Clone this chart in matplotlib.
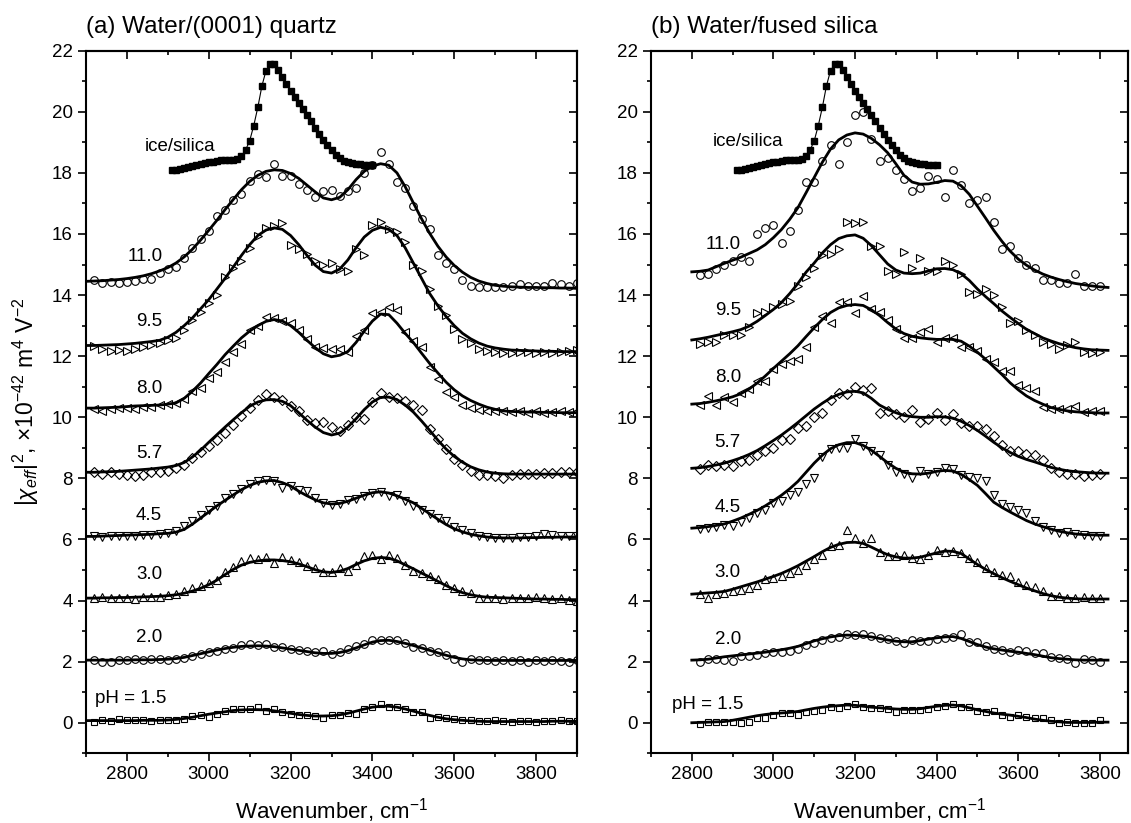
import matplotlib.pyplot as plt
import numpy as np
from matplotlib.ticker import MultipleLocator

plt.rcParams['font.family'] = ['Liberation Sans', 'DejaVu Sans']
plt.rcParams['mathtext.fontset'] = 'custom'
plt.rcParams['mathtext.rm'] = 'Liberation Sans'
plt.rcParams['mathtext.it'] = 'Liberation Sans:italic'

# wavenumber grids, cm^-1
wn_a = np.arange(2700, 3901, 20)      # panel (a) fit, data = wn_a[1:]
wn_b = np.arange(2800, 3821, 20)      # panel (b) fit, data = wn_b[1:-1]
wn_ice = np.arange(2910, 3401, 10)

ice = [18.08, 18.09, 18.12, 18.15, 18.19, 18.22, 18.25, 18.28, 18.31, 18.35,
       18.37, 18.40, 18.41, 18.41, 18.42, 18.43, 18.45, 18.55, 18.75, 19.05,
       19.55, 20.15, 20.85, 21.35, 21.55, 21.55, 21.38, 21.13, 20.92, 20.68,
       20.49, 20.30, 20.10, 19.90, 19.70, 19.48, 19.27, 19.08, 18.90, 18.74,
       18.60, 18.48, 18.40, 18.35, 18.31, 18.29, 18.28, 18.27, 18.26, 18.26]

# ---- panel (a) water/(0001) quartz ----
fit_a_110 = [14.45, 14.46, 14.47, 14.49, 14.51, 14.54, 14.58, 14.63, 14.70, 14.79,
             14.90, 15.05, 15.25, 15.50, 15.80, 16.12, 16.45, 16.80, 17.13, 17.45,
             17.72, 17.92, 18.05, 18.10, 18.08, 17.98, 17.82, 17.60, 17.38, 17.18,
             17.12, 17.20, 17.45, 17.78, 18.05, 18.22, 18.30, 18.25, 18.00, 17.55,
             17.02, 16.50, 16.02, 15.60, 15.25, 14.97, 14.75, 14.58, 14.46, 14.38,
             14.32, 14.29, 14.27, 14.26, 14.25, 14.25, 14.24, 14.24, 14.23, 14.23, 14.22]
fit_a_95 = [12.35, 12.35, 12.36, 12.37, 12.38, 12.40, 12.42, 12.45, 12.48, 12.52,
            12.62, 12.78, 13.00, 13.25, 13.55, 13.85, 14.20, 14.55, 14.92, 15.30,
            15.65, 15.95, 16.13, 16.20, 16.15, 15.95, 15.65, 15.30, 14.98, 14.77,
            14.72, 14.85, 15.15, 15.55, 15.90, 16.12, 16.22, 16.15, 15.95, 15.55,
            15.05, 14.55, 14.05, 13.65, 13.30, 13.00, 12.75, 12.57, 12.43, 12.33,
            12.27, 12.23, 12.20, 12.19, 12.18, 12.17, 12.16, 12.16, 12.15, 12.15, 12.15]
fit_a_80 = [10.30, 10.30, 10.31, 10.32, 10.33, 10.35, 10.37, 10.38, 10.39, 10.40,
            10.43, 10.47, 10.62, 10.85, 11.12, 11.43, 11.73, 12.05, 12.33, 12.60,
            12.82, 13.00, 13.14, 13.20, 13.15, 13.00, 12.78, 12.52, 12.28, 12.08,
            11.98, 12.03, 12.15, 12.45, 12.82, 13.15, 13.38, 13.36, 13.08, 12.75,
            12.45, 12.10, 11.76, 11.45, 11.15, 10.90, 10.70, 10.55, 10.43, 10.33,
            10.26, 10.21, 10.19, 10.18, 10.17, 10.17, 10.16, 10.16, 10.15, 10.15, 10.15]
fit_a_57 = [8.20, 8.20, 8.21, 8.22, 8.23, 8.25, 8.27, 8.29, 8.31, 8.34,
            8.37, 8.42, 8.52, 8.70, 8.92, 9.18, 9.43, 9.68, 9.92, 10.15,
            10.36, 10.50, 10.57, 10.58, 10.52, 10.38, 10.15, 9.90, 9.68, 9.50,
            9.42, 9.48, 9.68, 9.95, 10.25, 10.50, 10.65, 10.66, 10.58, 10.40,
            10.17, 9.88, 9.57, 9.25, 8.96, 8.72, 8.53, 8.38, 8.28, 8.21,
            8.17, 8.15, 8.14, 8.14, 8.14, 8.14, 8.14, 8.14, 8.14, 8.14, 8.14]
fit_a_45 = [6.10, 6.10, 6.11, 6.12, 6.13, 6.14, 6.15, 6.16, 6.17, 6.19,
            6.20, 6.24, 6.33, 6.50, 6.70, 6.90, 7.10, 7.28, 7.46, 7.63,
            7.77, 7.87, 7.92, 7.93, 7.86, 7.75, 7.58, 7.43, 7.30, 7.20,
            7.16, 7.18, 7.25, 7.35, 7.45, 7.53, 7.56, 7.52, 7.43, 7.32,
            7.20, 7.02, 6.84, 6.66, 6.49, 6.35, 6.25, 6.17, 6.12, 6.08,
            6.06, 6.05, 6.05, 6.05, 6.06, 6.06, 6.07, 6.07, 6.08, 6.08, 6.08]
fit_a_30 = [4.08, 4.08, 4.09, 4.09, 4.10, 4.10, 4.11, 4.12, 4.13, 4.14,
            4.16, 4.19, 4.24, 4.31, 4.40, 4.52, 4.67, 4.85, 5.02, 5.16,
            5.25, 5.30, 5.33, 5.33, 5.31, 5.27, 5.20, 5.11, 5.01, 4.94,
            4.92, 4.96, 5.05, 5.18, 5.30, 5.38, 5.41, 5.39, 5.30, 5.17,
            5.04, 4.90, 4.77, 4.63, 4.49, 4.36, 4.26, 4.19, 4.14, 4.11,
            4.10, 4.09, 4.08, 4.07, 4.06, 4.05, 4.05, 4.04, 4.04, 4.03, 4.03]
fit_a_20 = [2.05, 2.05, 2.05, 2.05, 2.05, 2.05, 2.06, 2.06, 2.06, 2.07,
            2.08, 2.10, 2.14, 2.20, 2.26, 2.32, 2.38, 2.43, 2.47, 2.50,
            2.51, 2.52, 2.51, 2.49, 2.45, 2.41, 2.37, 2.33, 2.29, 2.27,
            2.27, 2.30, 2.36, 2.45, 2.55, 2.64, 2.69, 2.70, 2.66, 2.60,
            2.53, 2.45, 2.37, 2.29, 2.21, 2.14, 2.09, 2.06, 2.05, 2.04,
            2.04, 2.04, 2.04, 2.04, 2.04, 2.04, 2.04, 2.04, 2.04, 2.04, 2.04]
fit_a_15 = [0.07, 0.07, 0.07, 0.07, 0.07, 0.07, 0.07, 0.08, 0.08, 0.08,
            0.09, 0.11, 0.14, 0.18, 0.23, 0.28, 0.32, 0.36, 0.40, 0.42,
            0.43, 0.43, 0.42, 0.39, 0.35, 0.31, 0.27, 0.24, 0.22, 0.22,
            0.23, 0.26, 0.31, 0.38, 0.45, 0.51, 0.54, 0.54, 0.51, 0.45,
            0.38, 0.31, 0.24, 0.18, 0.13, 0.10, 0.08, 0.06, 0.05, 0.04,
            0.04, 0.04, 0.04, 0.04, 0.04, 0.04, 0.04, 0.05, 0.05, 0.05, 0.05]

data_a_110 = [14.5, 14.38, 14.42, 14.38, 14.42, 14.45, 14.52, 14.52, 14.72, 14.85,
              14.92, 15.2, 15.55, 15.85, 16.1, 16.6, 16.8, 17.1, 17.3, 17.75,
              17.95, 17.85, 18.3, 17.9, 17.9, 17.65, 17.45, 17.22, 17.4, 17.45,
              17.25, 17.4, 17.5, 18.0, 18.25, 18.7, 18.3, 17.7, 17.5, 16.9,
              16.5, 16.15, 15.3, 15.05, 14.85, 14.48, 14.3, 14.25, 14.25, 14.25,
              14.27, 14.3, 14.35, 14.3, 14.3, 14.3, 14.4, 14.35, 14.3, 14.4]
data_a_95 = [12.33, 12.23, 12.18, 12.2, 12.18, 12.25, 12.3, 12.38, 12.42, 12.52,
             12.6, 12.85, 13.2, 13.45, 13.75, 14.0, 14.6, 14.9, 15.1, 15.55,
             15.95, 16.2, 16.25, 16.35, 15.65, 15.5, 15.35, 15.1, 15.0, 15.05,
             14.85, 14.8, 15.5, 15.3, 16.3, 16.4, 16.15, 16.05, 15.75, 15.0,
             14.8, 14.2, 13.65, 13.35, 12.9, 12.56, 12.42, 12.23, 12.18, 12.15,
             12.12, 12.12, 12.15, 12.13, 12.12, 12.15, 12.12, 12.15, 12.18, 12.2]
data_a_80 = [10.27, 10.22, 10.27, 10.3, 10.3, 10.27, 10.35, 10.32, 10.4, 10.43,
             10.48, 10.6, 10.85, 10.95, 11.3, 11.47, 11.8, 12.15, 12.4, 12.85,
             13.0, 13.27, 13.25, 13.16, 13.1, 12.85, 12.55, 12.3, 12.28, 12.25,
             12.23, 12.15, 12.65, 12.85, 13.4, 13.45, 13.6, 13.5, 12.8, 12.5,
             12.3, 11.65, 11.25, 10.82, 10.65, 10.4, 10.3, 10.25, 10.2, 10.22,
             10.2, 10.18, 10.2, 10.15, 10.2, 10.15, 10.18, 10.2, 10.18, 10.2]
data_a_57 = [8.22, 8.15, 8.2, 8.15, 8.12, 8.08, 8.12, 8.2, 8.22, 8.25,
             8.33, 8.45, 8.68, 8.85, 9.05, 9.25, 9.48, 9.75, 10.03, 10.3,
             10.55, 10.75, 10.68, 10.55, 10.38, 10.2, 9.9, 9.8, 9.85, 9.68,
             9.55, 9.75, 10.0, 9.95, 10.5, 10.78, 10.68, 10.62, 10.53, 10.4,
             10.25, 9.6, 9.3, 8.95, 8.65, 8.45, 8.25, 8.1, 8.12, 8.08,
             8.0, 8.1, 8.15, 8.15, 8.15, 8.18, 8.18, 8.2, 8.2, 8.22]
data_a_45 = [6.1, 6.08, 6.12, 6.1, 6.12, 6.12, 6.13, 6.15, 6.17, 6.2,
             6.28, 6.45, 6.62, 6.8, 6.95, 7.1, 7.35, 7.5, 7.65, 7.8,
             7.9, 7.95, 7.93, 7.7, 7.75, 7.62, 7.58, 7.35, 7.2, 7.13,
             7.17, 7.3, 7.32, 7.43, 7.53, 7.55, 7.42, 7.45, 7.25, 7.08,
             6.95, 6.83, 6.7, 6.62, 6.4, 6.3, 6.2, 6.12, 6.08, 6.05,
             6.05, 6.06, 6.07, 6.08, 6.1, 6.18, 6.15, 6.12, 6.1, 6.12]
data_a_30 = [4.08, 4.13, 4.1, 4.08, 4.1, 4.05, 4.13, 4.12, 4.12, 4.18,
             4.22, 4.3, 4.42, 4.48, 4.57, 4.68, 4.92, 5.1, 5.3, 5.4,
             5.35, 5.42, 5.22, 5.44, 5.32, 5.25, 5.12, 5.05, 4.92, 4.92,
             5.05, 4.97, 5.15, 5.45, 5.5, 5.35, 5.5, 5.38, 5.17, 4.98,
             4.9, 4.82, 4.7, 4.5, 4.42, 4.3, 4.25, 4.1, 4.1, 4.08,
             4.05, 4.07, 4.08, 4.1, 4.13, 4.1, 4.05, 4.08, 4.03, 4.0]
data_a_20 = [2.05, 2.0, 1.98, 2.05, 2.05, 2.08, 2.07, 2.1, 2.08, 2.05,
             2.08, 2.12, 2.17, 2.25, 2.33, 2.35, 2.42, 2.45, 2.55, 2.58,
             2.55, 2.58, 2.48, 2.47, 2.4, 2.38, 2.35, 2.3, 2.35, 2.25,
             2.3, 2.4, 2.5, 2.58, 2.7, 2.72, 2.72, 2.7, 2.6, 2.48,
             2.45, 2.35, 2.3, 2.22, 2.1, 2.0, 2.08, 2.05, 2.05, 2.02,
             2.05, 2.03, 2.05, 2.0, 2.05, 2.03, 2.05, 2.02, 2.0, 2.05]
data_a_15 = [0.02, 0.08, 0.05, 0.13, 0.08, 0.1, 0.1, 0.05, 0.08, 0.08,
             0.1, 0.12, 0.22, 0.25, 0.2, 0.3, 0.38, 0.45, 0.45, 0.45,
             0.5, 0.4, 0.45, 0.35, 0.3, 0.25, 0.25, 0.22, 0.17, 0.25,
             0.25, 0.32, 0.3, 0.45, 0.52, 0.6, 0.52, 0.5, 0.45, 0.35,
             0.35, 0.15, 0.2, 0.15, 0.12, 0.1, 0.08, 0.05, 0.05, 0.08,
             0.05, 0.03, 0.05, 0.05, 0.03, 0.05, 0.05, 0.08, 0.05, 0.07]

# ---- panel (b) water/fused silica ----
fit_b_110 = [14.76, 14.78, 14.82, 14.93, 15.04, 15.14, 15.24, 15.36, 15.48, 15.65,
             15.88, 16.15, 16.48, 16.86, 17.35, 17.85, 18.35, 18.78, 19.08, 19.24,
             19.31, 19.27, 19.13, 18.92, 18.66, 18.30, 17.92, 17.70, 17.63, 17.64,
             17.69, 17.75, 17.73, 17.58, 17.30, 16.91, 16.52, 16.12, 15.76, 15.44,
             15.18, 14.98, 14.82, 14.69, 14.59, 14.51, 14.44, 14.38, 14.34, 14.30,
             14.27, 14.25]
fit_b_95 = [12.53, 12.57, 12.62, 12.68, 12.74, 12.80, 12.87, 12.98, 13.14, 13.33,
            13.53, 13.76, 14.05, 14.38, 14.75, 15.05, 15.38, 15.65, 15.85, 15.94,
            15.97, 15.86, 15.62, 15.32, 15.02, 14.82, 14.72, 14.70, 14.72, 14.79,
            14.86, 14.87, 14.83, 14.70, 14.48, 14.20, 13.95, 13.72, 13.48, 13.27,
            13.07, 12.88, 12.74, 12.60, 12.50, 12.41, 12.34, 12.28, 12.24, 12.21,
            12.20, 12.19]
fit_b_80 = [10.43, 10.45, 10.49, 10.54, 10.60, 10.67, 10.77, 10.92, 11.12, 11.35,
            11.60, 11.84, 12.08, 12.34, 12.64, 12.93, 13.20, 13.43, 13.58, 13.66,
            13.69, 13.66, 13.52, 13.33, 13.10, 12.89, 12.74, 12.65, 12.60, 12.57,
            12.55, 12.55, 12.55, 12.49, 12.33, 12.13, 11.90, 11.65, 11.40, 11.13,
            10.90, 10.70, 10.55, 10.43, 10.32, 10.26, 10.21, 10.18, 10.16, 10.15,
            10.14, 10.14]
fit_b_57 = [8.33, 8.35, 8.39, 8.44, 8.50, 8.58, 8.67, 8.78, 8.91, 9.07,
            9.24, 9.42, 9.62, 9.83, 10.05, 10.27, 10.46, 10.63, 10.75, 10.83,
            10.85, 10.80, 10.62, 10.40, 10.26, 10.15, 10.06, 10.02, 10.00, 10.00,
            10.02, 10.01, 9.97, 9.87, 9.73, 9.57, 9.38, 9.18, 9.00, 8.85,
            8.72, 8.62, 8.54, 8.45, 8.36, 8.30, 8.25, 8.22, 8.20, 8.18,
            8.17, 8.17]
fit_b_45 = [6.37, 6.39, 6.42, 6.46, 6.51, 6.60, 6.70, 6.82, 6.95, 7.10,
            7.27, 7.45, 7.66, 7.90, 8.20, 8.50, 8.76, 8.97, 9.10, 9.17,
            9.17, 9.08, 8.92, 8.72, 8.51, 8.33, 8.20, 8.15, 8.14, 8.17,
            8.23, 8.26, 8.24, 8.13, 7.96, 7.77, 7.50, 7.22, 7.05, 6.90,
            6.76, 6.62, 6.51, 6.42, 6.34, 6.27, 6.22, 6.18, 6.16, 6.15,
            6.14, 6.14]
fit_b_30 = [4.21, 4.23, 4.25, 4.27, 4.30, 4.37, 4.45, 4.53, 4.61, 4.70,
            4.79, 4.89, 5.01, 5.14, 5.29, 5.44, 5.60, 5.74, 5.84, 5.90,
            5.91, 5.87, 5.75, 5.62, 5.50, 5.43, 5.39, 5.39, 5.42, 5.49,
            5.56, 5.62, 5.61, 5.54, 5.36, 5.18, 5.02, 4.88, 4.75, 4.63,
            4.52, 4.41, 4.32, 4.23, 4.16, 4.11, 4.08, 4.06, 4.05, 4.05,
            4.05, 4.05]
fit_b_20 = [2.05, 2.06, 2.08, 2.12, 2.16, 2.19, 2.22, 2.25, 2.28, 2.31,
            2.35, 2.39, 2.44, 2.50, 2.59, 2.68, 2.75, 2.81, 2.85, 2.87,
            2.86, 2.84, 2.81, 2.76, 2.71, 2.67, 2.65, 2.65, 2.69, 2.74,
            2.78, 2.81, 2.82, 2.76, 2.66, 2.56, 2.48, 2.42, 2.38, 2.34,
            2.31, 2.27, 2.23, 2.18, 2.13, 2.10, 2.08, 2.06, 2.05, 2.05,
            2.05, 2.05]
fit_b_15 = [0.00, 0.01, 0.02, 0.03, 0.04, 0.08, 0.13, 0.18, 0.23, 0.27,
            0.30, 0.32, 0.34, 0.37, 0.42, 0.47, 0.51, 0.54, 0.56, 0.58,
            0.57, 0.54, 0.51, 0.49, 0.47, 0.45, 0.44, 0.44, 0.46, 0.50,
            0.54, 0.57, 0.58, 0.55, 0.49, 0.42, 0.37, 0.32, 0.28, 0.25,
            0.21, 0.17, 0.12, 0.08, 0.05, 0.03, 0.01, 0.01, 0.01, 0.01,
            0.02, 0.02]

data_b_110 = [14.65, 14.68, 14.85, 15.0, 15.1, 15.25, 15.1, 16.0, 16.2, 16.3,
              15.7, 16.1, 16.8, 17.7, 17.7, 18.4, 18.9, 18.3, 19.0, 19.9,
              20.0, 19.1, 18.4, 18.5, 18.1, 17.8, 17.4, 17.5, 17.9, 17.8,
              17.2, 18.1, 17.6, 17.0, 17.1, 17.2, 16.4, 15.5, 15.6, 15.2,
              15.0, 14.9, 14.5, 14.5, 14.4, 14.4, 14.7, 14.3, 14.3, 14.3]
data_b_95 = [12.4, 12.45, 12.45, 12.7, 12.7, 12.7, 12.95, 13.4, 13.45, 13.6,
             13.7, 13.8, 14.3, 14.6, 14.9, 15.3, 15.35, 15.5, 16.4, 16.35,
             16.4, 15.6, 15.6, 14.8, 14.7, 15.4, 14.9, 15.2, 14.8, 14.8,
             15.1, 15.0, 14.7, 14.1, 14.05, 14.2, 14.0, 13.6, 13.1, 13.15,
             12.85, 12.7, 12.45, 12.4, 12.25, 12.35, 12.45, 12.15, 12.12, 12.15]
data_b_80 = [10.4, 10.7, 10.4, 10.65, 10.5, 10.8, 10.92, 11.2, 11.2, 11.58,
             11.76, 11.85, 11.9, 12.3, 12.94, 13.3, 13.1, 13.76, 13.76, 13.4,
             13.98, 13.55, 13.43, 13.2, 12.9, 12.61, 12.6, 12.78, 12.9, 12.45,
             12.61, 12.61, 12.3, 12.3, 12.18, 11.9, 11.8, 11.5, 11.5, 11.05,
             10.95, 10.85, 10.32, 10.27, 10.27, 10.27, 10.38, 10.16, 10.21, 10.21]
data_b_57 = [8.3, 8.45, 8.4, 8.45, 8.42, 8.57, 8.6, 8.75, 8.9, 9.0,
             9.25, 9.3, 9.65, 9.7, 10.0, 10.15, 10.55, 10.8, 10.75, 11.0,
             10.9, 10.95, 10.15, 10.2, 10.1, 10.0, 10.25, 9.85, 9.95, 10.15,
             9.9, 10.1, 9.8, 9.7, 9.7, 9.6, 9.4, 9.1, 8.9, 8.88,
             8.8, 8.75, 8.6, 8.35, 8.2, 8.15, 8.15, 8.08, 8.1, 8.15]
data_b_45 = [6.35, 6.38, 6.42, 6.47, 6.43, 6.58, 6.7, 6.85, 6.95, 7.2,
             7.27, 7.45, 7.55, 7.8, 8.0, 8.7, 8.95, 9.0, 9.0, 9.3,
             9.05, 8.9, 8.75, 8.45, 8.2, 8.15, 8.0, 8.25, 8.15, 8.2,
             8.35, 8.3, 8.1, 8.03, 8.0, 7.9, 7.45, 7.15, 7.05, 6.95,
             6.85, 6.6, 6.4, 6.3, 6.22, 6.24, 6.19, 6.13, 6.1, 6.1]
data_b_30 = [4.2, 4.1, 4.2, 4.25, 4.3, 4.35, 4.42, 4.5, 4.72, 4.75,
             4.8, 4.9, 5.0, 5.18, 5.35, 5.5, 5.8, 5.82, 6.3, 6.05,
             5.9, 6.05, 5.6, 5.45, 5.45, 5.5, 5.4, 5.35, 5.5, 5.65,
             5.6, 5.62, 5.55, 5.38, 5.25, 5.05, 4.95, 4.85, 4.8, 4.6,
             4.5, 4.45, 4.3, 4.15, 4.15, 4.1, 4.08, 4.12, 4.08, 4.08]
data_b_20 = [2.0, 2.08, 2.1, 2.07, 2.03, 2.17, 2.2, 2.22, 2.27, 2.3,
             2.32, 2.35, 2.42, 2.53, 2.6, 2.7, 2.78, 2.8, 2.9, 2.87,
             2.9, 2.84, 2.78, 2.74, 2.68, 2.6, 2.72, 2.67, 2.68, 2.75,
             2.78, 2.8, 2.9, 2.65, 2.65, 2.5, 2.43, 2.38, 2.33, 2.38,
             2.35, 2.27, 2.27, 2.16, 2.12, 2.08, 1.95, 2.08, 2.05, 1.98]
data_b_15 = [-0.05, 0.03, 0.03, 0.03, 0.02, 0.0, 0.02, 0.14, 0.17, 0.25,
             0.31, 0.31, 0.25, 0.34, 0.4, 0.42, 0.53, 0.47, 0.55, 0.6,
             0.52, 0.47, 0.47, 0.45, 0.35, 0.42, 0.42, 0.42, 0.45, 0.52,
             0.55, 0.6, 0.52, 0.5, 0.4, 0.35, 0.38, 0.25, 0.2, 0.25,
             0.2, 0.15, 0.15, 0.08, 0.0, 0.03, 0.0, 0.0, 0.0, 0.08]

ph_labels = ['11.0', '9.5', '8.0', '5.7', '4.5', '3.0', '2.0', 'pH = 1.5']
markers = ['o', '>', '<', 'D', 'v', '^', 'o', 's']
msizes = [5.5, 6, 6, 4.6, 6, 6, 5.5, 5]

# label anchor points (wavenumber, value)
lab_a_x = [2802, 2822, 2822, 2822, 2822, 2822, 2822, 2721]
lab_a_y = [15.26, 13.15, 10.95, 8.82, 6.77, 4.86, 2.79, 0.8]
lab_b_x = [2834, 2856, 2856, 2856, 2856, 2856, 2856, 2751]
lab_b_y = [15.64, 13.5, 11.31, 9.17, 7.05, 4.92, 2.74, 0.6]

fits_a = [fit_a_110, fit_a_95, fit_a_80, fit_a_57, fit_a_45, fit_a_30, fit_a_20, fit_a_15]
datas_a = [data_a_110, data_a_95, data_a_80, data_a_57, data_a_45, data_a_30, data_a_20, data_a_15]
fits_b = [fit_b_110, fit_b_95, fit_b_80, fit_b_57, fit_b_45, fit_b_30, fit_b_20, fit_b_15]
datas_b = [data_b_110, data_b_95, data_b_80, data_b_57, data_b_45, data_b_30, data_b_20, data_b_15]

fig = plt.figure(figsize=(11.31, 8.23), dpi=100)
ax_a = fig.add_axes([86 / 1131, 69.7 / 823, 491 / 1131, 702.6 / 823])
ax_b = fig.add_axes([651 / 1131, 69.7 / 823, 477 / 1131, 702.6 / 823])


def draw_panel(ax, wn, wn_data, fits, datas, lab_x, lab_y, ice_x, ice_lab):
    for fit, dat, m, ms in zip(fits, datas, markers, msizes):
        ax.plot(wn_data, dat, linestyle='none', marker=m, ms=ms, mfc='none',
                mec='black', mew=0.8)
        ax.plot(wn, fit, color='black', lw=2.0)
    for x, y, s in zip(lab_x, lab_y, ph_labels):
        ax.text(x, y, s, fontsize=13.5, va='center', ha='left')
    # ice/silica reference spectrum
    ax.plot(wn_ice, ice, color='black', lw=0.8, marker='s', ms=4.4,
            mfc='black', mec='black')
    ax.text(ice_x, ice_lab, 'ice/silica', fontsize=13.5, va='center', ha='left')

    ax.set_ylim(-1, 22)
    ax.yaxis.set_major_locator(MultipleLocator(2))
    ax.yaxis.set_minor_locator(MultipleLocator(1))
    ax.xaxis.set_major_locator(MultipleLocator(200))
    ax.xaxis.set_minor_locator(MultipleLocator(100))
    ax.tick_params(which='both', direction='out', top=False, right=False,
                   labelsize=13.5, width=1.2)
    ax.tick_params(which='major', length=6)
    ax.tick_params(which='minor', length=3)
    for sp in ax.spines.values():
        sp.set_linewidth(1.5)

    # inward ticks on top and right
    top = ax.secondary_xaxis('top')
    top.xaxis.set_major_locator(MultipleLocator(200))
    top.xaxis.set_minor_locator(MultipleLocator(100))
    top.tick_params(which='both', direction='in', labeltop=False, width=1.2)
    top.tick_params(which='major', length=6)
    top.tick_params(which='minor', length=3)
    top.spines['top'].set_linewidth(1.5)
    right = ax.secondary_yaxis('right')
    right.yaxis.set_major_locator(MultipleLocator(2))
    right.yaxis.set_minor_locator(MultipleLocator(1))
    right.tick_params(which='both', direction='in', labelright=False, width=1.2)
    right.tick_params(which='major', length=6)
    right.tick_params(which='minor', length=3)
    right.spines['right'].set_linewidth(1.5)

    ax.set_xlabel('Wavenumber, cm$^{-1}$', fontsize=16, labelpad=9)


draw_panel(ax_a, wn_a, wn_a[1:], fits_a, datas_a, lab_a_x, lab_a_y, 2843, 18.85)
draw_panel(ax_b, wn_b, wn_b[1:-1], fits_b, datas_b, lab_b_x, lab_b_y, 2852, 19.02)

ax_a.set_xlim(2700, 3900)
ax_b.set_xlim(2700, 3869)

ax_a.set_title('(a) Water/(0001) quartz', loc='left', fontsize=17.5, pad=13)
ax_b.set_title('(b) Water/fused silica', loc='left', fontsize=17.5, pad=13)
ax_a.set_ylabel(r'$|\chi_{eff}|^2$, $\times10^{-42}$ m$^4$ V$^{-2}$',
                fontsize=16.5, labelpad=8)

fig.savefig('out.png', dpi=100)
